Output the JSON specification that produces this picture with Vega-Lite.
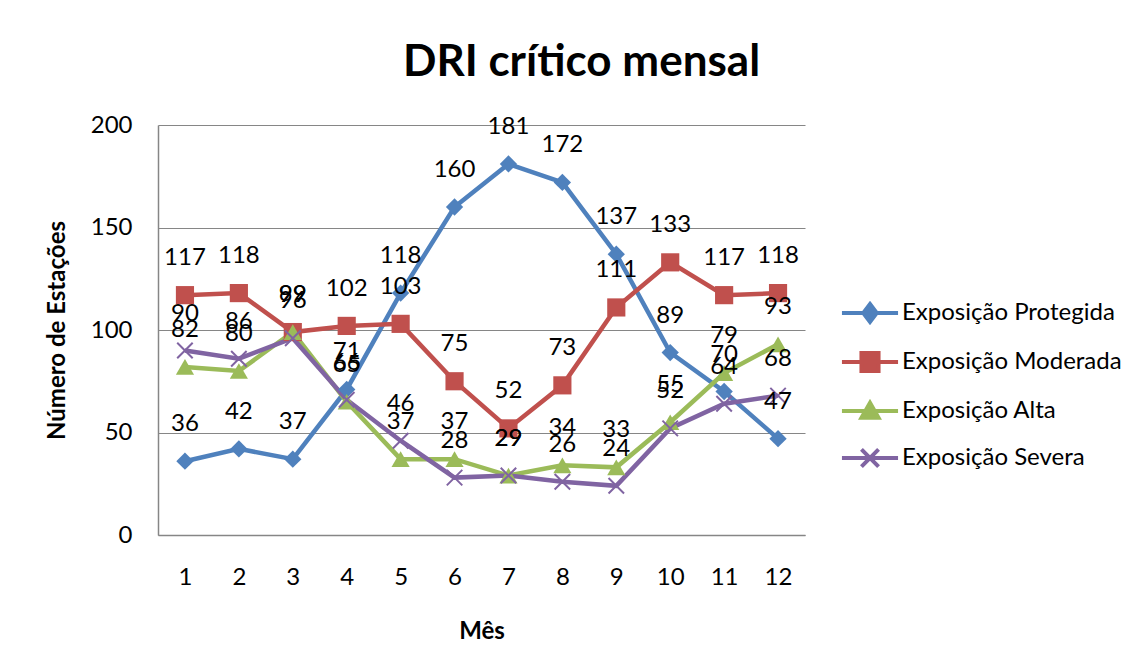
{
  "$schema": "https://vega.github.io/schema/vega-lite/v6.json",
  "width": 647,
  "height": 410,
  "autosize": {"type": "none"},
  "padding": {"left": 158, "top": 125, "right": 342, "bottom": 136},
  "background": "white",
  "config": {"view": {"stroke": null}, "font": "Lato"},
  "title": {"text": "DRI crítico mensal", "fontSize": 44, "font": "Lato", "fontWeight": "bold", "color": "#000000", "anchor": "middle", "dx": 100, "offset": 48, "dy": 55, "baseline": "alphabetic"},
  "data": {"values": [
    {"mes": 1, "serie": "Exposição Protegida", "valor": 36},
    {"mes": 2, "serie": "Exposição Protegida", "valor": 42},
    {"mes": 3, "serie": "Exposição Protegida", "valor": 37},
    {"mes": 4, "serie": "Exposição Protegida", "valor": 71},
    {"mes": 5, "serie": "Exposição Protegida", "valor": 118},
    {"mes": 6, "serie": "Exposição Protegida", "valor": 160},
    {"mes": 7, "serie": "Exposição Protegida", "valor": 181},
    {"mes": 8, "serie": "Exposição Protegida", "valor": 172},
    {"mes": 9, "serie": "Exposição Protegida", "valor": 137},
    {"mes": 10, "serie": "Exposição Protegida", "valor": 89},
    {"mes": 11, "serie": "Exposição Protegida", "valor": 70},
    {"mes": 12, "serie": "Exposição Protegida", "valor": 47},
    {"mes": 1, "serie": "Exposição Moderada", "valor": 117},
    {"mes": 2, "serie": "Exposição Moderada", "valor": 118},
    {"mes": 3, "serie": "Exposição Moderada", "valor": 99},
    {"mes": 4, "serie": "Exposição Moderada", "valor": 102},
    {"mes": 5, "serie": "Exposição Moderada", "valor": 103},
    {"mes": 6, "serie": "Exposição Moderada", "valor": 75},
    {"mes": 7, "serie": "Exposição Moderada", "valor": 52},
    {"mes": 8, "serie": "Exposição Moderada", "valor": 73},
    {"mes": 9, "serie": "Exposição Moderada", "valor": 111},
    {"mes": 10, "serie": "Exposição Moderada", "valor": 133},
    {"mes": 11, "serie": "Exposição Moderada", "valor": 117},
    {"mes": 12, "serie": "Exposição Moderada", "valor": 118},
    {"mes": 1, "serie": "Exposição Alta", "valor": 82},
    {"mes": 2, "serie": "Exposição Alta", "valor": 80},
    {"mes": 3, "serie": "Exposição Alta", "valor": 99},
    {"mes": 4, "serie": "Exposição Alta", "valor": 65},
    {"mes": 5, "serie": "Exposição Alta", "valor": 37},
    {"mes": 6, "serie": "Exposição Alta", "valor": 37},
    {"mes": 7, "serie": "Exposição Alta", "valor": 29},
    {"mes": 8, "serie": "Exposição Alta", "valor": 34},
    {"mes": 9, "serie": "Exposição Alta", "valor": 33},
    {"mes": 10, "serie": "Exposição Alta", "valor": 55},
    {"mes": 11, "serie": "Exposição Alta", "valor": 79},
    {"mes": 12, "serie": "Exposição Alta", "valor": 93},
    {"mes": 1, "serie": "Exposição Severa", "valor": 90},
    {"mes": 2, "serie": "Exposição Severa", "valor": 86},
    {"mes": 3, "serie": "Exposição Severa", "valor": 96},
    {"mes": 4, "serie": "Exposição Severa", "valor": 66},
    {"mes": 5, "serie": "Exposição Severa", "valor": 46},
    {"mes": 6, "serie": "Exposição Severa", "valor": 28},
    {"mes": 7, "serie": "Exposição Severa", "valor": 29},
    {"mes": 8, "serie": "Exposição Severa", "valor": 26},
    {"mes": 9, "serie": "Exposição Severa", "valor": 24},
    {"mes": 10, "serie": "Exposição Severa", "valor": 52},
    {"mes": 11, "serie": "Exposição Severa", "valor": 64},
    {"mes": 12, "serie": "Exposição Severa", "valor": 68}
  ]},
  "encoding": {
    "x": {"field": "mes", "type": "ordinal", "scale": {"type": "point", "padding": 0.5},
      "axis": {"title": "Mês", "titleFontSize": 24, "titleFontWeight": "bold", "titleColor": "#000000", "titlePadding": 30, "labelFontSize": 24, "labelColor": "#000000", "labelPadding": 30, "labelAngle": 0, "ticks": false, "domainColor": "#868686", "domainWidth": 1.5, "grid": false}},
    "y": {"field": "valor", "type": "quantitative", "scale": {"domain": [0, 200], "nice": false},
      "axis": {"title": "Número de Estações", "values": [0, 50, 100, 150, 200], "titleFontSize": 24, "titleFontWeight": "bold", "titleColor": "#000000", "titlePadding": 21, "labelFontSize": 24, "labelColor": "#000000", "labelPadding": 26, "ticks": false, "domainColor": "#868686", "domainWidth": 1.5, "grid": true, "gridColor": "#868686", "gridWidth": 1.2}},
    "color": {"field": "serie", "type": "nominal",
      "scale": {"domain": ["Exposição Protegida", "Exposição Moderada", "Exposição Alta", "Exposição Severa"], "range": ["#4F81BD", "#C0504D", "#9BBB59", "#8064A2"]},
      "legend": {"title": null, "orient": "none", "legendX": 695, "legendY": 171, "padding": 0, "symbolSize": 900, "symbolStrokeWidth": 4, "labelOffset": 15, "rowPadding": 15, "labelFontSize": 24, "labelColor": "#000000", "labelLimit": 400,
        "encode": {"symbols": {"update": {
          "shape": {"signal": "datum.value == 'Exposição Protegida' ? 'M-1.87,0H1.87M0,-0.6L0.45,0L0,0.6L-0.45,0Z' : datum.value == 'Exposição Moderada' ? 'M-1.87,0H1.87M-0.57,-0.6H0.57V0.6H-0.57Z' : datum.value == 'Exposição Alta' ? 'M-1.87,0H1.87M0,-0.55L0.57,0.45H-0.57Z' : 'M-1.87,0H1.87M-0.57,-0.57L0.57,0.57M0.57,-0.57L-0.57,0.57'"},
          "fill": {"scale": "color", "field": "value"},
          "stroke": {"scale": "color", "field": "value"},
          "strokeWidth": {"value": 4},
          "opacity": {"value": 1}
        }}}}}
  },
  "layer": [
    {"mark": {"type": "line", "strokeWidth": 4.5}},
    {"transform": [{"filter": "datum.serie == 'Exposição Protegida'"}],
      "mark": {"type": "point", "filled": true, "opacity": 1, "size": 300, "shape": "diamond"}},
    {"transform": [{"filter": "datum.serie == 'Exposição Moderada'"}],
      "mark": {"type": "point", "filled": true, "opacity": 1, "size": 330, "shape": "square"}},
    {"transform": [{"filter": "datum.serie == 'Exposição Alta'"}],
      "mark": {"type": "point", "filled": true, "opacity": 1, "size": 330, "shape": "triangle-up"}},
    {"transform": [{"filter": "datum.serie == 'Exposição Severa'"}],
      "mark": {"type": "point", "filled": false, "opacity": 1, "size": 240, "strokeWidth": 2, "shape": "M-1,-1L1,1M1,-1L-1,1"}},
    {"mark": {"type": "text", "dy": -37, "fontSize": 24, "font": "Lato", "baseline": "middle"},
      "encoding": {"text": {"field": "valor", "type": "quantitative"}, "color": {"value": "#000000"}}}
  ]
}
